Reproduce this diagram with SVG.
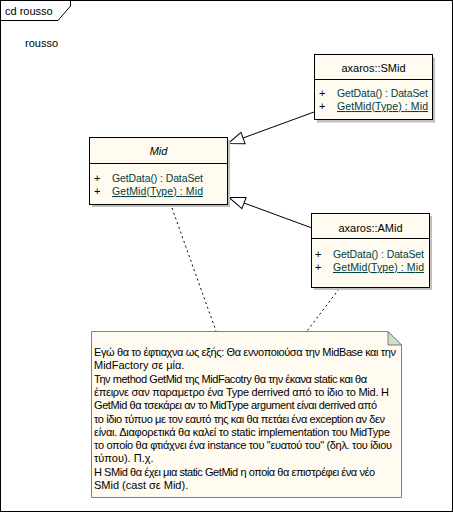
<svg xmlns="http://www.w3.org/2000/svg" width="453" height="512" viewBox="0 0 453 512">
<defs>
<style>
text{font-family:"Liberation Sans",Arial,sans-serif;font-size:11px;fill:#000}
.cls{fill:#fffbf0;stroke:#000;stroke-width:1}
.shadow{fill:#c0c0c0;stroke:none}
.sep{stroke:#000;stroke-width:1}
.op{fill:#004040;font-size:10.5px}
.st{text-decoration:underline}
.gen{fill:none;stroke:#000;stroke-width:1}
.dep{fill:none;stroke:#000;stroke-width:1;stroke-dasharray:2,3}
.note{fill:#fffbf0;stroke:#808080;stroke-width:1}
.fold{fill:#cce0cc;stroke:#808080;stroke-width:1}
</style>
<marker id="tri" markerUnits="userSpaceOnUse" markerWidth="20" markerHeight="16" viewBox="-1 -8 19 16" refX="16" refY="0" orient="auto">
<path d="M0,-6 L16,0 L0,6 Z" fill="#fff" stroke="#000" stroke-width="1"/>
</marker>
</defs>
<rect width="453" height="512" fill="#fff"/>
<g id="frame">
<rect x="0.5" y="0.5" width="452" height="511" fill="none" stroke="#000"/>
<path d="M0.5,20.5 H58 L70.5,6 V0.5" fill="none" stroke="#000"/>
<text x="5" y="15">cd rousso</text>
<text x="25" y="47">rousso</text>
</g>
<g id="connectors">
<line class="gen" x1="314" y1="112" x2="228" y2="143.5" marker-end="url(#tri)"/>
<line class="gen" x1="312" y1="228" x2="229" y2="197.5" marker-end="url(#tri)"/>
<line class="dep" x1="172" y1="208" x2="216" y2="331"/>
<line class="dep" x1="339" y1="289" x2="307" y2="331"/>
</g>
<g id="SMid">
<rect class="shadow" x="317" y="57.5" width="118" height="65"/>
<rect class="cls" x="314.5" y="54.5" width="118" height="65"/>
<line class="sep" x1="314.5" y1="79.5" x2="432.5" y2="79.5"/>
<text x="373.5" y="72" text-anchor="middle">axaros::SMid</text>
<text x="319" y="97">+</text>
<text class="op" x="337" y="97" textLength="91">GetData() : DataSet</text>
<text x="319" y="110">+</text>
<text class="op st" x="337" y="110" textLength="91">GetMid(Type) : Mid</text>
</g>
<g id="Mid">
<rect class="shadow" x="92" y="140" width="138" height="67"/>
<rect class="cls" x="89.5" y="137.5" width="138" height="67"/>
<line class="sep" x1="89.5" y1="163.5" x2="227.5" y2="163.5"/>
<text x="158.5" y="155" text-anchor="middle" font-style="italic">Mid</text>
<text x="94" y="182">+</text>
<text class="op" x="112" y="182" textLength="91">GetData() : DataSet</text>
<text x="94" y="195">+</text>
<text class="op st" x="112" y="195" textLength="91">GetMid(Type) : Mid</text>
</g>
<g id="AMid">
<rect class="shadow" x="314" y="216" width="118" height="74"/>
<rect class="cls" x="311.5" y="213.5" width="118" height="74"/>
<line class="sep" x1="311.5" y1="238.5" x2="429.5" y2="238.5"/>
<text x="370.5" y="232" text-anchor="middle">axaros::AMid</text>
<text x="315" y="258">+</text>
<text class="op" x="333" y="258" textLength="91">GetData() : DataSet</text>
<text x="315" y="271">+</text>
<text class="op st" x="333" y="271" textLength="91">GetMid(Type) : Mid</text>
</g>
<g id="note">
<path class="note" d="M91.5,331.5 H388 L401.5,345 V497.5 H91.5 Z"/>
<path class="fold" d="M388,331.5 V345 H401.5 Z"/>
<text x="94" y="356" textLength="302">Εγώ θα το έφτιαχνα ως εξής: Θα εννοποιούσα την MidBase και την</text>
<text x="94" y="369.3">MidFactory σε μία.</text>
<text x="94" y="382.6" textLength="273">Την method GetMid της MidFacotry θα την έκανα static και θα</text>
<text x="94" y="395.9" textLength="295">έπειρνε σαν παραμετρο ένα Type derrived από το ίδιο το Mid. Η</text>
<text x="94" y="409.2" textLength="283">GetMid θα τσεκάρει αν το MidType argument είναι derrived από</text>
<text x="94" y="422.5" textLength="291">το ίδιο τύπυο με τον εαυτό της και θα πετάει ένα exception αν δεν</text>
<text x="94" y="435.8" textLength="296">είναι. Διαφορετικά θα καλεί το static implementation του MidType</text>
<text x="94" y="449.1" textLength="298">το οποίο θα φτιάχνει ένα instance του "ευατού του" (δηλ. του ίδιου</text>
<text x="94" y="462.4">τύπου). Π.χ.</text>
<text x="94" y="475.7" textLength="281">Η SMid θα έχει μια static GetMid η οποία θα επιστρέφει ένα νέο</text>
<text x="94" y="489">SMid (cast σε Mid).</text>
</g>
</svg>
